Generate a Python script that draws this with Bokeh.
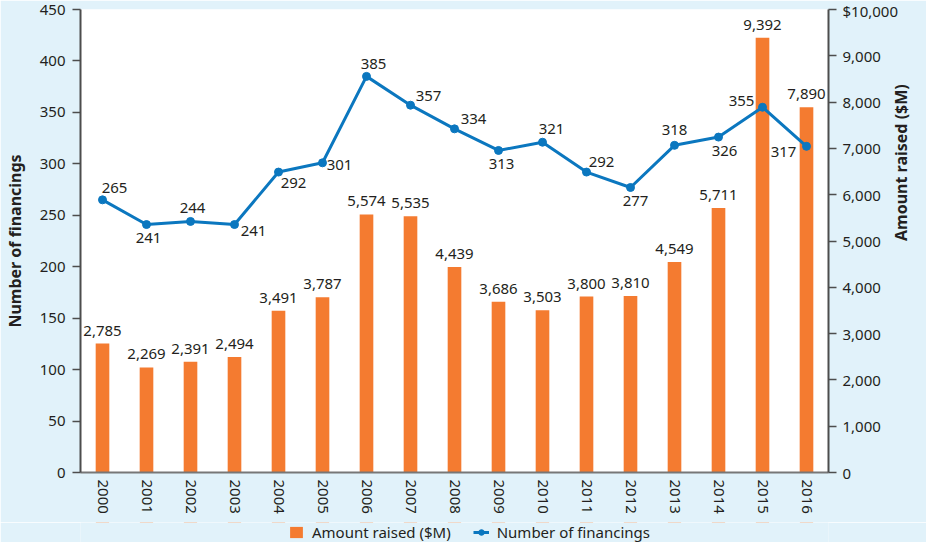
import math
from bokeh.plotting import figure
from bokeh.layouts import column
from bokeh.models import (ColumnDataSource, Range1d, LinearAxis, FixedTicker, Legend,
                          LegendItem, FactorRange, NumeralTickFormatter)
from bokeh.core.properties import value
from bokeh.embed import file_html
from bokeh.resources import INLINE

# ---------------- data ----------------
years = ["2000", "2001", "2002", "2003", "2004", "2005", "2006", "2007", "2008",
         "2009", "2010", "2011", "2012", "2013", "2014", "2015", "2016"]
amount_raised = [2785, 2269, 2391, 2494, 3491, 3787, 5574, 5535, 4439,
                 3686, 3503, 3800, 3810, 4549, 5711, 9392, 7890]
num_financings = [265, 241, 244, 241, 292, 301, 385, 357, 334,
                  313, 321, 292, 277, 318, 326, 355, 317]
left_ticks = [0, 50, 100, 150, 200, 250, 300, 350, 400, 450]
right_ticks = [0, 1000, 2000, 3000, 4000, 5000, 6000, 7000, 8000, 9000, 10000]
series_names = ["Amount raised ($M)", "Number of financings"]

# ---------------- layout / style ----------------
line_label_dx = [12, 2, 2, 19, 15, 17, 7, 18, 19, 3, 9, 15, 5, 0, 6, -21, -23]
line_label_dy = [-12, 13, -13, 6, 11, 2, -12, -9, -10, 14, -13, -10, 14, -15, 14, -6, 6]

FONT = "Noto Sans"
TXT = "#231F20"
ORANGE = "#F47B30"
BLUE = "#0B77BF"
BG = "#E1F2FA"
AXIS = "#4D4D4D"

src = ColumnDataSource(dict(
    year=years,
    amount=amount_raised,
    amount_lbl=[f"{v:,}" for v in amount_raised],
    fin=num_financings,
    fin_lbl=[str(v) for v in num_financings],
    dx=line_label_dx,
    dy=line_label_dy,
))

p = figure(width=926, height=522, x_range=FactorRange(factors=years, range_padding=0),
           y_range=Range1d(0, 450), output_backend="svg", toolbar_location=None,
           min_border_left=78, min_border_right=89, min_border_top=9, min_border_bottom=50)
p.extra_y_ranges = {"amt": Range1d(0, 10000)}

p.background_fill_color = "white"
p.border_fill_color = BG
p.outline_line_color = None
p.grid.grid_line_color = None

bars = p.vbar(x="year", top="amount", width=0.31, source=src, y_range_name="amt",
              fill_color=ORANGE, line_color=None)
ln = p.line(x="year", y="fin", source=src, line_color=BLUE, line_width=3)
pts = p.scatter(x="year", y="fin", source=src, size=8, fill_color=BLUE, line_color=BLUE)

p.text(x="year", y="amount", text="amount_lbl", source=src, y_range_name="amt",
       text_align="center", text_baseline="middle", y_offset=-13,
       text_font=value(FONT), text_font_size="15px", text_color=TXT)
p.text(x="year", y="fin", text="fin_lbl", source=src, x_offset="dx", y_offset="dy",
       text_align="center", text_baseline="middle",
       text_font=value(FONT), text_font_size="15px", text_color=TXT)

# left axis
ya = p.yaxis[0]
ya.ticker = FixedTicker(ticks=left_ticks)
ya.axis_label = "Number of financings"
ya.axis_label_text_font = FONT
ya.axis_label_text_font_style = "bold"
ya.axis_label_text_font_size = "16px"
ya.axis_label_text_color = TXT
ya.axis_label_standoff = 11
ya.major_label_text_font = FONT
ya.major_label_text_font_size = "15px"
ya.major_label_text_color = TXT
ya.major_label_standoff = 7
ya.major_tick_out = 8
ya.major_tick_in = 0
ya.minor_tick_out = 0
ya.minor_tick_in = 0
ya.axis_line_color = AXIS
ya.axis_line_width = 2
ya.major_tick_line_color = AXIS
ya.major_tick_line_width = 1.5

# right axis
ra = LinearAxis(y_range_name="amt", ticker=FixedTicker(ticks=right_ticks),
                formatter=NumeralTickFormatter(format="0,0"))
ra.major_label_overrides = {10000: "$10,000"}
ra.axis_label = "Amount raised ($M)"
ra.axis_label_text_font = FONT
ra.axis_label_text_font_style = "bold"
ra.axis_label_text_font_size = "16px"
ra.axis_label_text_color = TXT
ra.axis_label_standoff = 0
if hasattr(ra, "axis_label_orientation"):
    ra.axis_label_orientation = math.pi / 2
ra.major_label_text_font = FONT
ra.major_label_text_font_size = "15px"
ra.major_label_text_color = TXT
ra.major_label_standoff = 6
ra.major_tick_out = 8
ra.major_tick_in = 0
ra.minor_tick_out = 0
ra.minor_tick_in = 0
ra.axis_line_color = AXIS
ra.axis_line_width = 2
ra.major_tick_line_color = AXIS
ra.major_tick_line_width = 1.5
p.add_layout(ra, "right")

# bottom axis
xa = p.xaxis[0]
xa.major_label_orientation = "vertical"
xa.major_label_text_font = FONT
xa.major_label_text_font_size = "15px"
xa.major_label_text_color = TXT
xa.major_label_standoff = 7
xa.major_tick_out = 0
xa.major_tick_in = 0
xa.axis_line_color = "#777777"
xa.axis_line_width = 2

# legend strip (own small figure so the legend is not clipped by the chart frame)
lg = figure(width=926, height=20, output_backend="svg", toolbar_location=None,
            x_axis_location=None, y_axis_location=None,
            min_border=0, x_range=p.x_range, y_range=Range1d(0, 1))
lg.grid.visible = False
lg.outline_line_color = None
lg.background_fill_color = BG
lg.border_fill_color = BG
# legend swatches: zero-height bars / off-range line, only their styles show in the legend
lb = lg.vbar(x="year", bottom="fin", top="fin", width=0.3, source=src,
             fill_color=ORANGE, line_color=None)
ll = lg.line(x="year", y="fin", source=src, line_color=BLUE, line_width=3)
lp = lg.scatter(x="year", y="fin", source=src, size=7, fill_color=BLUE, line_color=BLUE)
legend = Legend(items=[LegendItem(label=series_names[0], renderers=[lb]),
                       LegendItem(label=series_names[1], renderers=[ll, lp])],
                orientation="horizontal", location=(208, 0),
                border_line_color=None, background_fill_alpha=0,
                label_text_font=FONT, label_text_font_size="15px", label_text_color=TXT,
                glyph_width=16, glyph_height=14, label_height=16,
                spacing=22, label_standoff=8, padding=2, margin=0)
lg.add_layout(legend, "center")

layout = column(p, lg, spacing=0)
html = file_html(layout, INLINE, title="Financings")
with open("out.html", "w") as f:
    f.write(html)
